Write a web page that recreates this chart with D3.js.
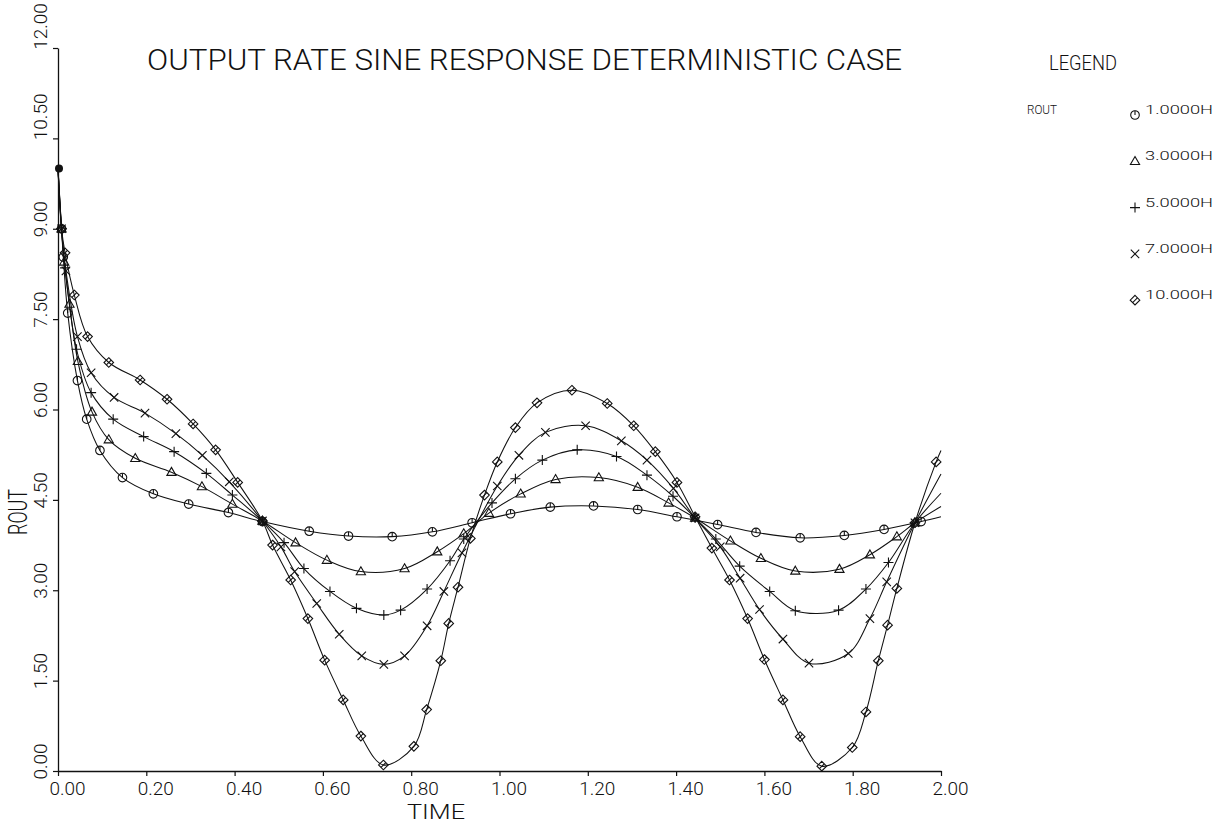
<!DOCTYPE html>
<html><head><meta charset="utf-8">
<script src="https://cdn.jsdelivr.net/npm/d3@7/dist/d3.min.js"></script>
<style>
html,body{margin:0;padding:0;background:#fff;}
text{font-family:"Roboto","Liberation Sans",sans-serif;font-weight:300;fill:#111;}
</style></head>
<body><svg id="c" width="1218" height="824"></svg>
<script>
// ---- data ----
const title = "OUTPUT RATE SINE RESPONSE DETERMINISTIC CASE";
const xLabel = "TIME";
const yLabel = "ROUT";
const xTicks = [0, 0.2, 0.4, 0.6, 0.8, 1.0, 1.2, 1.4, 1.6, 1.8, 2.0];
const yTicks = [0, 1.5, 3.0, 4.5, 6.0, 7.5, 9.0, 10.5, 12.0];
const seriesNames = ["1.0000H", "3.0000H", "5.0000H", "7.0000H", "10.000H"];
const markerKinds = ["circle", "triangle", "plus", "cross", "diamond"];

const t1H = [0, 0.008, 0.012, 0.022, 0.044, 0.065, 0.095, 0.146, 0.216, 0.296, 0.386, 0.463, 0.569, 0.658, 0.757, 0.848, 0.938, 1.025, 1.115, 1.213, 1.313, 1.402, 1.494, 1.581, 1.681, 1.781, 1.871, 1.955, 2.0];
const v1H = [10.0, 9.0, 8.53, 7.60, 6.48, 5.84, 5.32, 4.87, 4.60, 4.43, 4.29, 4.14, 3.98, 3.90, 3.89, 3.97, 4.12, 4.27, 4.38, 4.40, 4.34, 4.22, 4.09, 3.96, 3.87, 3.91, 4.01, 4.14, 4.22];

const t3H = [0, 0.008, 0.014, 0.026, 0.045, 0.077, 0.115, 0.175, 0.257, 0.326, 0.395, 0.463, 0.538, 0.609, 0.686, 0.785, 0.859, 0.919, 0.976, 1.048, 1.127, 1.225, 1.313, 1.383, 1.443, 1.523, 1.592, 1.670, 1.770, 1.839, 1.900, 1.941, 2.0];
const v3H = [10.0, 9.0, 8.45, 7.75, 6.80, 5.96, 5.50, 5.19, 4.96, 4.72, 4.43, 4.15, 3.79, 3.50, 3.31, 3.36, 3.64, 3.94, 4.28, 4.60, 4.84, 4.87, 4.71, 4.45, 4.20, 3.82, 3.53, 3.32, 3.35, 3.59, 3.89, 4.12, 4.39];

const t5H = [0, 0.008, 0.016, 0.042, 0.075, 0.125, 0.194, 0.263, 0.336, 0.395, 0.463, 0.512, 0.557, 0.616, 0.676, 0.738, 0.776, 0.836, 0.888, 0.919, 0.983, 1.036, 1.097, 1.176, 1.265, 1.334, 1.393, 1.443, 1.490, 1.544, 1.612, 1.670, 1.768, 1.830, 1.881, 1.941, 2.0];
const v5H = [10.0, 9.0, 8.35, 7.0, 6.28, 5.84, 5.55, 5.30, 4.94, 4.58, 4.15, 3.79, 3.36, 2.98, 2.70, 2.59, 2.67, 3.02, 3.49, 3.85, 4.45, 4.85, 5.16, 5.33, 5.22, 4.91, 4.56, 4.20, 3.85, 3.40, 2.98, 2.66, 2.67, 3.02, 3.46, 4.12, 4.61];

const t7H = [0, 0.008, 0.018, 0.044, 0.075, 0.127, 0.197, 0.267, 0.327, 0.388, 0.463, 0.505, 0.536, 0.586, 0.637, 0.688, 0.738, 0.785, 0.836, 0.874, 0.915, 0.995, 1.044, 1.104, 1.195, 1.276, 1.334, 1.394, 1.443, 1.500, 1.545, 1.589, 1.642, 1.701, 1.790, 1.839, 1.877, 1.941, 2.0];
const v7H = [10.0, 9.0, 8.3, 7.21, 6.61, 6.20, 5.94, 5.60, 5.24, 4.80, 4.15, 3.72, 3.31, 2.78, 2.27, 1.91, 1.77, 1.91, 2.41, 2.98, 3.62, 4.73, 5.24, 5.62, 5.73, 5.48, 5.16, 4.69, 4.20, 3.72, 3.20, 2.68, 2.19, 1.79, 1.95, 2.53, 3.14, 4.12, 4.93];

const t10H = [0, 0.008, 0.016, 0.037, 0.067, 0.115, 0.186, 0.247, 0.306, 0.357, 0.407, 0.463, 0.486, 0.527, 0.566, 0.604, 0.646, 0.686, 0.737, 0.806, 0.835, 0.867, 0.885, 0.906, 0.934, 0.966, 0.995, 1.036, 1.085, 1.164, 1.244, 1.304, 1.353, 1.402, 1.443, 1.481, 1.521, 1.562, 1.600, 1.642, 1.681, 1.730, 1.799, 1.830, 1.858, 1.879, 1.900, 1.941, 1.989, 2.0];
const v10H = [10.0, 9.0, 8.6, 7.90, 7.21, 6.78, 6.49, 6.17, 5.76, 5.33, 4.79, 4.15, 3.75, 3.17, 2.53, 1.84, 1.18, 0.58, 0.10, 0.41, 1.02, 1.83, 2.45, 3.05, 3.86, 4.58, 5.13, 5.70, 6.11, 6.32, 6.10, 5.73, 5.30, 4.79, 4.22, 3.70, 3.17, 2.53, 1.85, 1.18, 0.57, 0.08, 0.39, 0.98, 1.83, 2.42, 3.03, 4.12, 5.13, 5.32];

const seriesT = [t1H, t3H, t5H, t7H, t10H];
const seriesV = [v1H, v3H, v5H, v7H, v10H];

// ---- drawing ----
const svg = d3.select("#c");
const x = d3.scaleLinear().domain([0, 2]).range([58, 941]);
const y = d3.scaleLinear().domain([0, 12]).range([771, 48]);
const fmt = d3.format(".2f");

function marker(g, kind, cx, cy) {
  const s = g.append("g").attr("transform", `translate(${cx},${cy})`)
    .attr("fill", "none").attr("stroke", "#111").attr("stroke-width", 1.1);
  if (kind === "circle") {
    s.append("circle").attr("r", 4.3);
    s.append("line").attr("x1", 0).attr("y1", -4.3).attr("x2", 0).attr("y2", 0);
  } else if (kind === "triangle") {
    s.append("path").attr("d", "M0,-4.8L4.6,3.2L-4.6,3.2Z");
  } else if (kind === "plus") {
    s.append("path").attr("d", "M-5,0H5M0,-5V5");
  } else if (kind === "cross") {
    s.append("path").attr("d", "M-4.2,-4.2L4.2,4.2M-4.2,4.2L4.2,-4.2");
  } else {
    s.append("path").attr("d", "M0,-4.8L4.8,0L0,4.8L-4.8,0Z");
    s.append("path").attr("d", "M-2.4,2.4L2.4,-2.4");
  }
}

// axes
const xAxis = d3.axisBottom(x).tickValues(xTicks).tickSizeInner(5).tickSizeOuter(0).tickFormat(fmt);
const gx = svg.append("g").attr("transform", `translate(0,${y(0)})`).call(xAxis);
gx.select(".domain").attr("stroke", "#111").attr("stroke-width", 1.3);
gx.selectAll(".tick line").attr("stroke", "#111").attr("stroke-width", 1.2);
gx.selectAll(".tick text").attr("font-size", 19).attr("dx", 9).attr("y", 24).attr("dy", null)
  .attr("fill", "#111").style("font-family", '"Roboto","Liberation Sans",sans-serif').style("font-weight", 300);

const yAxis = d3.axisLeft(y).tickValues(yTicks).tickSizeInner(5).tickSizeOuter(0).tickFormat(fmt);
const gy = svg.append("g").attr("transform", `translate(${x(0)},0)`).call(yAxis);
gy.select(".domain").attr("stroke", "#111").attr("stroke-width", 1.3);
gy.selectAll(".tick line").attr("stroke", "#111").attr("stroke-width", 1.2);
gy.selectAll(".tick text").each(function (d) {
  const off = fmt(d).length >= 5 ? -22 : -10;
  d3.select(this).attr("x", null).attr("dy", null)
    .attr("transform", `translate(-11,${off}) rotate(-90)`)
    .attr("text-anchor", "middle").attr("font-size", 19).attr("fill", "#111")
    .style("font-family", '"Roboto","Liberation Sans",sans-serif').style("font-weight", 300);
});

// curves
const line = d3.line().x(d => x(d[0])).y(d => y(d[1])).curve(d3.curveCatmullRom.alpha(0.5));
seriesT.forEach((ts, i) => {
  const pts = ts.map((t, j) => [t, seriesV[i][j]]);
  svg.append("path").datum(pts).attr("d", line).attr("fill", "none")
    .attr("stroke", "#111").attr("stroke-width", 1.05);
  const mg = svg.append("g");
  pts.slice(1, -1).forEach(p => marker(mg, markerKinds[i], x(p[0]), y(p[1])));
});
// common starting point
svg.append("circle").attr("cx", x(seriesT[0][0]) + 1).attr("cy", y(seriesV[0][0])).attr("r", 4).attr("fill", "#111");

// title and labels
svg.append("text").attr("x", 147).attr("y", 70).attr("font-size", 29)
  .attr("textLength", 755).attr("lengthAdjust", "spacingAndGlyphs").text(title);
svg.append("text").attr("x", 436).attr("y", 819).attr("text-anchor", "middle").attr("font-size", 20)
  .attr("textLength", 58).attr("lengthAdjust", "spacingAndGlyphs").text(xLabel);
svg.append("text").attr("transform", "translate(27,512) rotate(-90)").attr("text-anchor", "middle")
  .attr("font-size", 26).attr("textLength", 46).attr("lengthAdjust", "spacingAndGlyphs").text(yLabel);

// legend
svg.append("text").attr("x", 1049).attr("y", 70).attr("font-size", 21)
  .attr("textLength", 68).attr("lengthAdjust", "spacingAndGlyphs").text("LEGEND");
svg.append("text").attr("x", 1027).attr("y", 114).attr("font-size", 12)
  .attr("textLength", 30).attr("lengthAdjust", "spacingAndGlyphs").text(yLabel);
const lg = svg.append("g");
seriesNames.forEach((nm, i) => {
  const yy = 114 + i * 46.3;
  marker(lg, markerKinds[i], 1135, yy + 1);
  lg.append("text").attr("x", 1145).attr("y", yy).attr("font-size", 13)
    .attr("textLength", 68).attr("lengthAdjust", "spacingAndGlyphs").text(nm);
});
</script></body></html>
